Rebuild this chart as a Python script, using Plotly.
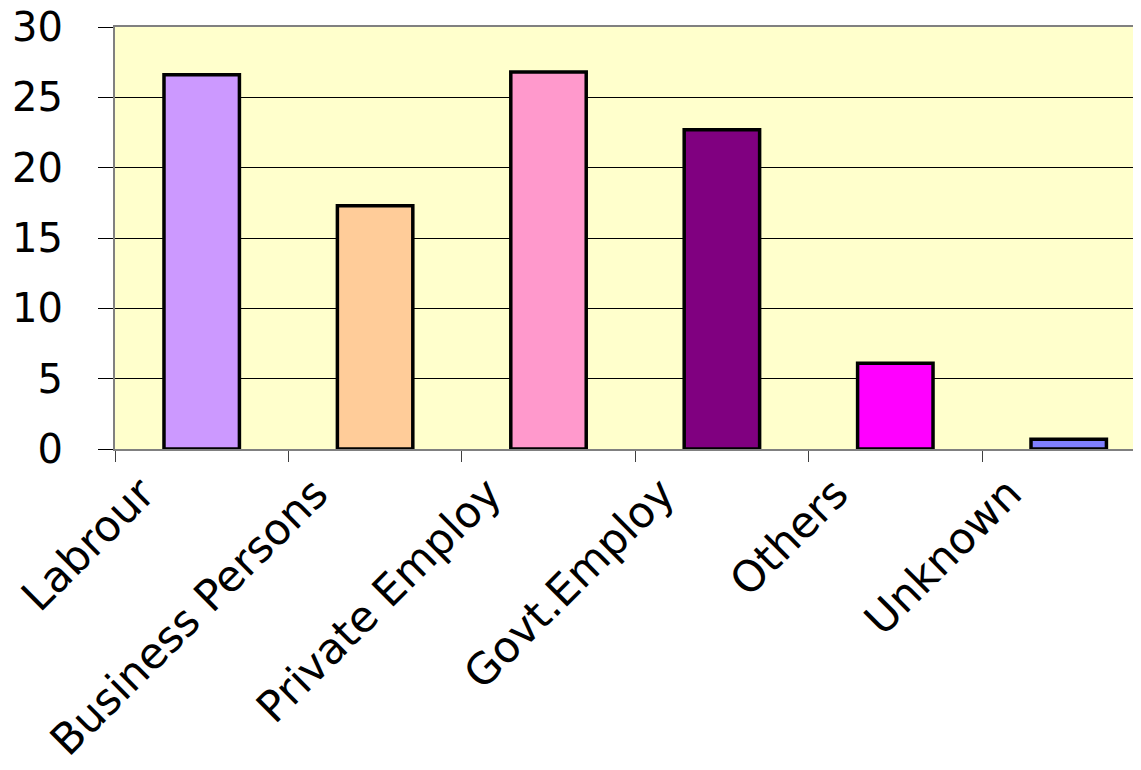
import plotly.graph_objects as go

categories = ["Labrour", "Business Persons", "Private Employ", "Govt.Employ", "Others", "Unknown"]
values = [26.6, 17.3, 26.8, 22.7, 6.1, 0.7]
colors = ["#CC99FF", "#FFCC99", "#FF99CC", "#800080", "#FF00FF", "#8080FF"]
y_ticks = [0, 5, 10, 15, 20, 25, 30]

fig = go.Figure(go.Bar(
    x=categories, y=values,
    marker=dict(color=colors, line=dict(color="black", width=3.5)),
))

font = "DejaVu Sans, Arial, sans-serif"
fig.update_layout(
    width=1141, height=770,
    margin=dict(l=107, r=0, t=19, b=329),
    paper_bgcolor="white", plot_bgcolor="#FFFFCC",
    bargap=0.565, showlegend=False,
    font=dict(family=font, color="black"),
)
fig.update_xaxes(
    range=[-0.5, 5.463], tickangle=-45, tickfont=dict(size=43),
    ticks="outside", tickson="boundaries", ticklen=11, tickcolor="#404040",
    ticklabelshift=-60, ticklabelstandoff=0, ticklabeloverflow="allow",
    showline=True, linecolor="#808080", linewidth=2, mirror=True,
    showgrid=False, automargin=False,
)
fig.update_yaxes(
    range=[0, 30], tickvals=y_ticks, tickfont=dict(size=40),
    ticks="outside", ticklen=15, tickcolor="black", ticklabelstandoff=27,
    ticklabeloverflow="allow",
    showgrid=True, gridcolor="black", gridwidth=1,
    showline=True, linecolor="#808080", linewidth=2,
    zeroline=False, automargin=False,
)
fig.write_html("out.html")
